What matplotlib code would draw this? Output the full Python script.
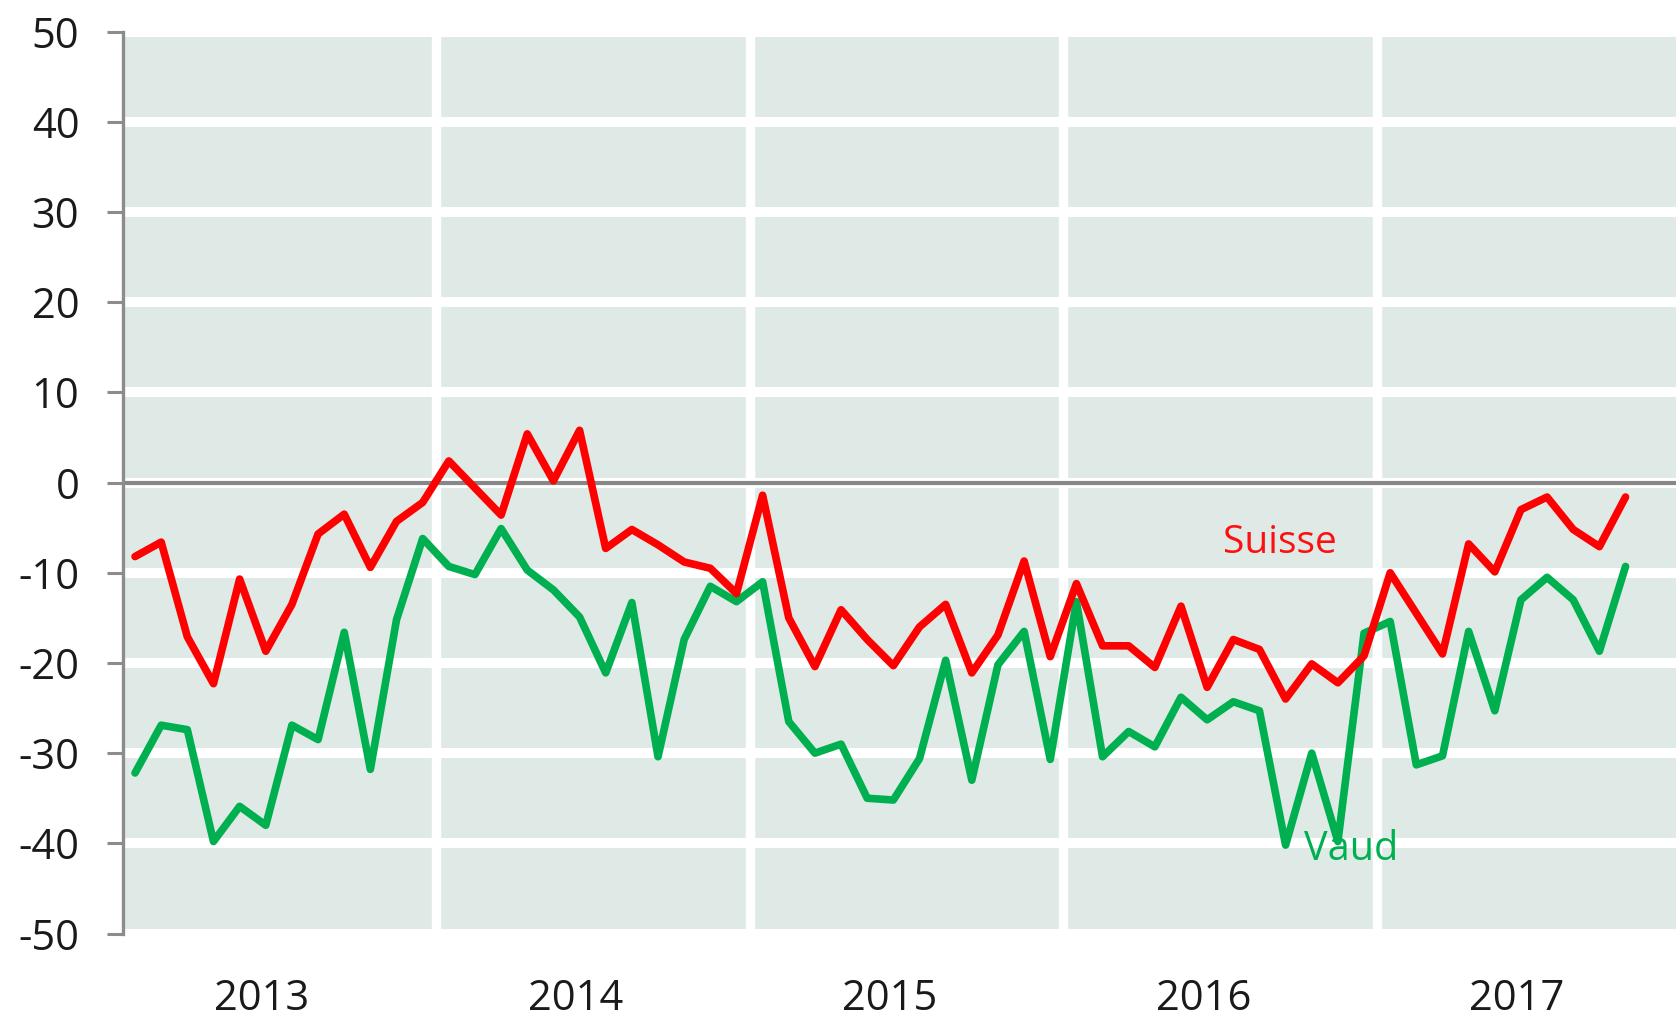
import matplotlib
matplotlib.use("Agg")
import matplotlib.pyplot as plt
import matplotlib.transforms as mtransforms

# Monthly balance of opinions, January 2013 to October 2017
years = ["2013", "2014", "2015", "2016", "2017"]

suisse = [
    -8.2, -6.6, -17.1, -22.3, -10.7, -18.7, -13.5, -5.7, -3.5, -9.4, -4.3, -2.2,
    2.4, -0.6, -3.6, 5.4, 0.2, 5.8, -7.3, -5.2, -6.9, -8.8, -9.5, -12.3,
    -1.4, -15.0, -20.4, -14.1, -17.4, -20.3, -16.0, -13.5, -21.1, -16.9, -8.7, -19.3,
    -11.2, -18.1, -18.1, -20.5, -13.7, -22.7, -17.4, -18.5, -24.0, -20.1, -22.2, -19.2,
    -10.0, -14.5, -19.0, -6.8, -9.9, -3.0, -1.6, -5.2, -7.1, -1.6,
]

vaud = [
    -32.2, -26.9, -27.4, -39.8, -35.9, -38.0, -26.9, -28.5, -16.6, -31.8, -15.2, -6.2,
    -9.3, -10.2, -5.1, -9.7, -11.9, -14.9, -21.1, -13.3, -30.4, -17.4, -11.5, -13.2,
    -11.0, -26.5, -30.0, -29.0, -35.0, -35.2, -30.6, -19.7, -33.0, -20.2, -16.5, -30.7,
    -13.2, -30.4, -27.6, -29.3, -23.8, -26.3, -24.3, -25.3, -40.2, -30.0, -39.8, -16.7,
    -15.4, -31.3, -30.3, -16.5, -25.3, -13.0, -10.5, -13.0, -18.7, -9.3,
]

yticks = [50, 40, 30, 20, 10, 0, -10, -20, -30, -40, -50]

plt.rcParams["font.family"] = ["Open Sans", "DejaVu Sans"]

W, H, DPI = 1676, 1017, 100
fig = plt.figure(figsize=(W / DPI, H / DPI), dpi=DPI)
fig.patch.set_facecolor("white")

ax_left, ax_top, ax_bottom = 123, 31.7, 933.5
ax = fig.add_axes([ax_left / W, 1 - ax_bottom / H, 1 - ax_left / W, (ax_bottom - ax_top) / H])
ax.set_facecolor("#DFEAE7")

months = list(range(len(suisse)))
ax.set_xlim(-0.46, 58.93)
ax.set_ylim(-50, 50)

# white horizontal grid at every 10 and white separators between years
for v in yticks:
    ax.axhline(v, color="white", lw=7.2, zorder=1, clip_on=False)
for k in range(1, len(years)):
    ax.axvline(12 * k - 0.5, color="white", lw=6.8, zorder=1)

# zero reference line
ax.axhline(0, color="#878787", lw=3.0, zorder=2)

ax.plot(months, suisse, color="#FF0000", lw=5.5, zorder=4,
        solid_joinstyle="round", solid_capstyle="round")
ax.plot(months, vaud, color="#00B050", lw=5.5, zorder=3,
        solid_joinstyle="round", solid_capstyle="round")

ax.text(43.8, -7.8, "Suisse", color="#FF1010", fontsize=28, ha="center",
        va="baseline", zorder=5)
ax.text(46.5, -41.9, "Vaud", color="#00B050", fontsize=28.5, ha="center",
        va="baseline", zorder=5)

# spines and ticks
for side in ("top", "right", "bottom"):
    ax.spines[side].set_visible(False)
ax.spines["left"].set_color("#8C8C8C")
ax.spines["left"].set_linewidth(2.4)
ax.spines["left"].set_zorder(6)

ax.set_yticks(yticks)
ax.set_yticklabels([str(v) for v in yticks])
ax.tick_params(axis="y", direction="out", length=11.5, width=2.2, color="#8C8C8C",
               pad=20, labelsize=30, labelcolor="#1a1a1a")
ax.set_xticks([])

# year labels below the plot
trans = mtransforms.blended_transform_factory(ax.transData, ax.transAxes)
for k, yr in enumerate(years):
    ax.text(12 * k + 4.85, -0.085, yr, transform=trans, ha="center", va="baseline",
            fontsize=30, color="#1a1a1a", clip_on=False)

fig.savefig("out.png", dpi=DPI, facecolor="white")
